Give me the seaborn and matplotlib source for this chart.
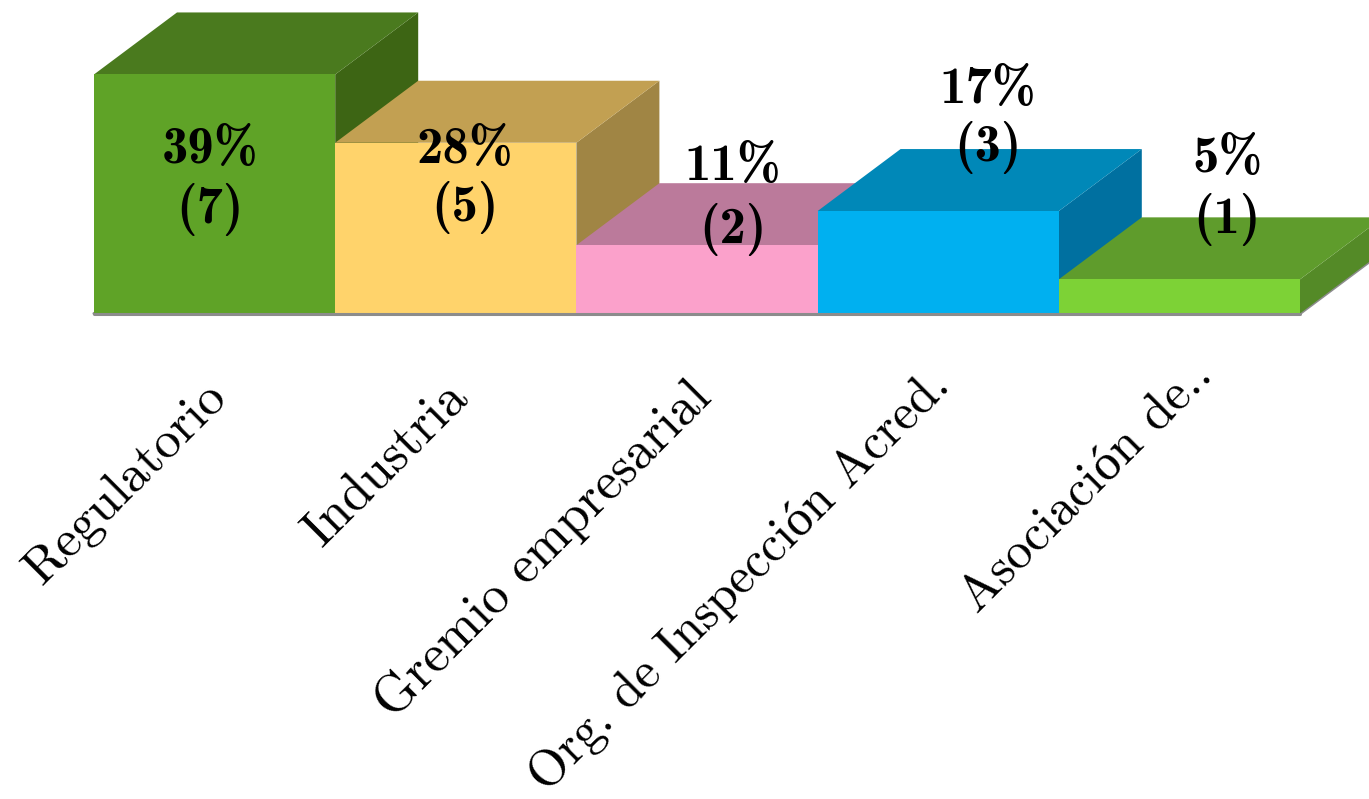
import matplotlib
matplotlib.use("Agg")
import matplotlib.pyplot as plt
from matplotlib.transforms import ScaledTranslation
import seaborn as sns
import pandas as pd

categories = ["Regulatorio", "Industria", "Gremio empresarial", "Org. de Inspección Acred.", "Asociación de.."]
counts = [7, 5, 2, 3, 1]
percents = ["39%", "28%", "11%", "17%", "5%"]
front_colors = ["#5FA327", "#FFD36B", "#FBA1CB", "#00B0F0", "#7DD236"]
top_colors = ["#4A7A1E", "#C2A052", "#BB7A9B", "#0088B8", "#5F9C2C"]
side_colors = ["#3D6514", "#A08544", "#9C6682", "#0070A0", "#548A27"]

W, H = 1369, 799
X0, BAR_W, BASE = 94.0, 241.2, 313.5
UNIT = 34.15
DX, DY = 83.0 / BAR_W, 62.0 / UNIT

sns.set_theme(style="white")
plt.rcParams["font.family"] = ["cmr10", "Liberation Serif"]
plt.rcParams["axes.formatter.use_mathtext"] = True

fig = plt.figure(figsize=(W / 100, H / 100), dpi=100)
ax = fig.add_axes([0, 1 - BASE / H, 1, BASE / H])
ax.patch.set_alpha(0)

df = pd.DataFrame({"categoria": categories, "n": counts})
sns.barplot(data=df, x="categoria", y="n", hue="categoria", palette=front_colors,
            width=1.0, dodge=False, legend=False, ax=ax, saturation=1, linewidth=0)

ax.set_xlim(-0.5 - X0 / BAR_W, -0.5 + (W - X0) / BAR_W)
ax.set_ylim(0, BASE / UNIT)

for i, cont in enumerate(ax.containers):
    for p in cont:
        p.set_zorder(3 * i + 3)
        h = counts[i]
        l, r = i - 0.5, i + 0.5
        ax.fill([l, l + DX, r + DX, r], [h, h + DY, h + DY, h], color=top_colors[i], lw=0, zorder=3 * i + 2, clip_on=False)
        ax.fill([r, r + DX, r + DX, r], [0, DY, h + DY, h], color=side_colors[i], lw=0, zorder=3 * i + 1, clip_on=False)

label_dx = [-4.5, 9, 36, 50, 48]
label_y1 = [150, 150, 167, 90, 159]
label_y2 = [209, 207, 229, 148, 219]
for i in range(len(categories)):
    x = i + label_dx[i] / BAR_W
    for txt, py in ((percents[i], label_y1[i]), (f"({counts[i]})", label_y2[i])):
        ax.text(x, (BASE - py) / UNIT, txt, ha="center", va="center", fontsize=38,
                family=["cmb10", "Liberation Serif"], color="black", zorder=50)

ax.set_xticks(range(len(categories)))
ax.set_xticklabels(categories, rotation=45, ha="right", rotation_mode="anchor", fontsize=38)
ax.tick_params(axis="x", length=0, pad=43, colors="black")
tick_sizes = [37.5, 38, 38, 36.5, 37]
tick_shift_x = [-11, -12, -11, -12, 10]
tick_shift_y = [-1, 0, 1, 11, 21]
for lab, fs, sx, sy in zip(ax.get_xticklabels(), tick_sizes, tick_shift_x, tick_shift_y):
    lab.set_fontsize(fs)
    lab.set_transform(lab.get_transform() + ScaledTranslation(sx / 100, sy / 100, fig.dpi_scale_trans))
ax.set_xlabel("")
ax.set_ylabel("")
ax.set_yticks([])
sns.despine(ax=ax, left=True, top=True, right=True, bottom=True)
ax.plot([-0.5, 4.5, 4.5 + DX], [0, 0, DY], color="#8C8C8C", lw=2.2, zorder=2, clip_on=False)
ax.plot([-0.5, 4.5], [0, 0], color="#8C8C8C", lw=2.2, zorder=40, clip_on=False)

fig.savefig("out.png", dpi=100)
